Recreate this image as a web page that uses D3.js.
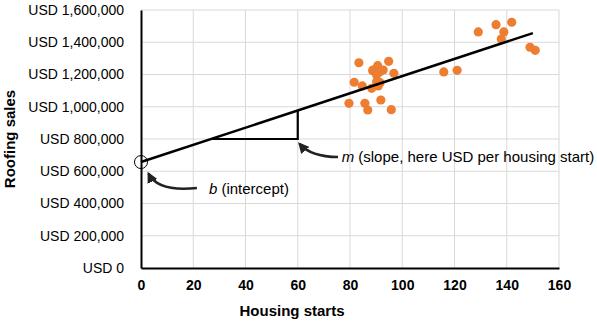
<!DOCTYPE html>
<html>
<head>
<meta charset="utf-8">
<script src="https://cdn.jsdelivr.net/npm/d3@7"></script>
<style>
  html, body { margin: 0; padding: 0; background: #fff; }
  svg { display: block; font-family: "Liberation Sans", Arial, sans-serif; }
</style>
</head>
<body>
<svg id="chart" width="597" height="322"></svg>
<script>
// Observed data: housing starts vs. roofing sales (USD)
const housingStarts = [83.4, 94.8, 88.7, 90.6, 92.7, 96.8, 81.6, 84.7, 88.3, 90.8,
                       91.5, 79.6, 85.7, 86.8, 91.8, 95.8, 88.8, 90.2, 91.5, 90.2,
                       129.1, 135.9, 141.9, 138.9, 137.9, 148.9, 150.9, 115.9, 121.0];
const roofingSales  = [1273000, 1282000, 1224000, 1255000, 1228000, 1207000, 1152000, 1129000, 1114000, 1129000,
                       1149000, 1021000, 1021000, 980000, 1042000, 982000, 1228000, 1197000, 1217000, 1155000,
                       1464000, 1509000, 1524000, 1464000, 1420000, 1369000, 1350000, 1216000, 1226000];

// Fitted line y = b + m * x
const intercept = 657000;
const slope = 5333;
const lineRange = [0, 150];
const slopeRun = 60;          // x where the rise/run triangle closes

const xTicks = [0, 20, 40, 60, 80, 100, 120, 140, 160];
const yTicks = [0, 200000, 400000, 600000, 800000, 1000000, 1200000, 1400000, 1600000];

const W = 597, H = 322;
const margin = { top: 10, right: 38, bottom: 54, left: 141 };

const svg = d3.select("#chart");
const x = d3.scaleLinear().domain([0, 160]).range([margin.left, W - margin.right]);
const y = d3.scaleLinear().domain([0, 1600000]).range([H - margin.bottom, margin.top]);
const fit = v => intercept + slope * v;

// gridlines
const grid = svg.append("g").attr("stroke", "#d9d9d9").attr("stroke-width", 1);
grid.selectAll(".gx").data(xTicks.slice(1)).join("line")
  .attr("x1", d => x(d)).attr("x2", d => x(d))
  .attr("y1", y(1600000)).attr("y2", y(0));
grid.selectAll(".gy").data(yTicks.slice(1)).join("line")
  .attr("x1", x(0)).attr("x2", x(160))
  .attr("y1", d => y(d)).attr("y2", d => y(d));

// axes
const fmt = d => "USD " + d3.format(",")(d);
const yAxis = svg.append("g")
  .attr("transform", `translate(${x(0)},0)`)
  .call(d3.axisLeft(y).tickValues(yTicks).tickFormat(fmt).tickSize(0).tickPadding(17));
yAxis.select(".domain").attr("stroke", "#000").attr("stroke-width", 2);
yAxis.selectAll("text").attr("font-size", 14).attr("fill", "#000")
  .attr("font-family", "Liberation Sans, Arial, sans-serif");

const xAxis = svg.append("g")
  .attr("transform", `translate(0,${y(0)})`)
  .call(d3.axisBottom(x).tickValues(xTicks).tickSize(0).tickPadding(12));
xAxis.select(".domain").attr("stroke", "#000").attr("stroke-width", 2);
xAxis.selectAll("text").attr("font-size", 14).attr("font-weight", "bold").attr("fill", "#000")
  .attr("font-family", "Liberation Sans, Arial, sans-serif");

// axis titles
svg.append("text")
  .attr("x", 292).attr("y", 316)
  .attr("text-anchor", "middle").attr("font-size", 15).attr("font-weight", "bold")
  .text("Housing starts");
svg.append("text")
  .attr("transform", `translate(15,${(y(0) + y(1600000)) / 2}) rotate(-90)`)
  .attr("text-anchor", "middle").attr("font-size", 15).attr("font-weight", "bold")
  .text("Roofing sales");

// scatter points
const pts = housingStarts.map((h, i) => ({ h, s: roofingSales[i] }));
svg.append("g").selectAll("circle").data(pts).join("circle")
  .attr("cx", d => x(d.h)).attr("cy", d => y(d.s)).attr("r", 4.6)
  .attr("fill", "#ed7d31");

// fitted line
svg.append("line")
  .attr("x1", x(lineRange[0])).attr("y1", y(fit(lineRange[0])))
  .attr("x2", x(lineRange[1])).attr("y2", y(fit(lineRange[1])))
  .attr("stroke", "#000").attr("stroke-width", 2.5);

// rise/run triangle
const runStart = (800000 - intercept) / slope;
svg.append("path")
  .attr("d", `M${x(runStart)},${y(800000)} L${x(slopeRun)},${y(800000)} L${x(slopeRun)},${y(fit(slopeRun))}`)
  .attr("fill", "none").attr("stroke", "#000").attr("stroke-width", 2.2);

// intercept marker
svg.append("circle")
  .attr("cx", x(0)).attr("cy", y(intercept)).attr("r", 6.5)
  .attr("fill", "none").attr("stroke", "#000").attr("stroke-width", 1);

// curved callout arrows
const defs = svg.append("defs");
defs.append("marker")
  .attr("id", "head").attr("viewBox", "0 0 10 10")
  .attr("refX", 8).attr("refY", 5)
  .attr("markerWidth", 4.2).attr("markerHeight", 4.2)
  .attr("markerUnits", "strokeWidth").attr("orient", "auto")
  .append("path").attr("d", "M0,0 L10,5 L0,10 z").attr("fill", "#222");

const callouts = [
  { tail: [21.4, 496000], ctrl: [6.5, 470000], tip: [2.9, 585000],
    label: [26.0, 462000], lead: "b", rest: " (intercept)" },
  { tail: [75.4, 688000], ctrl: [65.0, 690000], tip: [60.7, 770000],
    label: [76.8, 657000], lead: "m", rest: " (slope, here USD per housing start)" }
];
svg.append("g").selectAll("path").data(callouts).join("path")
  .attr("d", d => `M${x(d.tail[0])},${y(d.tail[1])} Q${x(d.ctrl[0])},${y(d.ctrl[1])} ${x(d.tip[0])},${y(d.tip[1])}`)
  .attr("fill", "none").attr("stroke", "#222").attr("stroke-width", 2.6)
  .attr("marker-end", "url(#head)");

const labels = svg.append("g").selectAll("text").data(callouts).join("text")
  .attr("x", d => x(d.label[0])).attr("y", d => y(d.label[1]))
  .attr("font-size", 15).attr("fill", "#000");
labels.append("tspan").attr("font-style", "italic").text(d => d.lead);
labels.append("tspan").text(d => d.rest);
</script>
</body>
</html>
